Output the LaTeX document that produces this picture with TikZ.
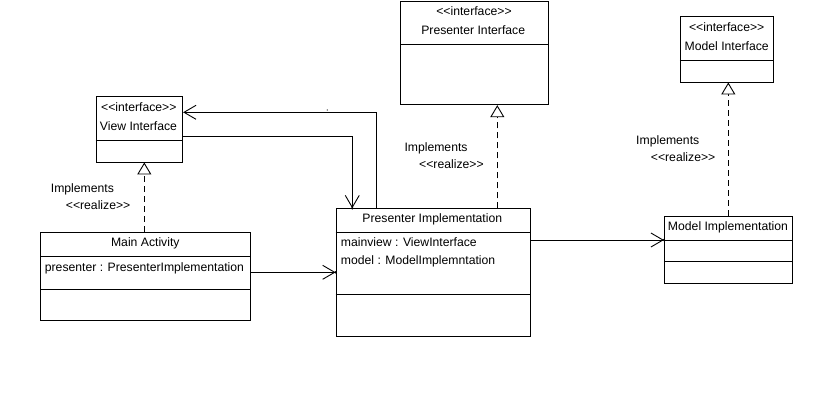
\documentclass[tikz,border=0pt]{standalone}
\usepackage{fontspec}
\newfontfamily\umlfont{Liberation Sans}
\usetikzlibrary{arrows.meta}
\tikzset{
  umlbox/.style={draw=black, line width=0.9pt, fill=white, inner sep=0pt},
  divider/.style={draw=black, line width=0.9pt},
  lbl/.style={inner sep=0pt, font=\umlfont\fontsize{12.2}{14}\selectfont, text=black},
  assoc/.style={draw=black, line width=0.9pt, -{Straight Barb[length=12pt,width=14pt]}},
  realiz/.style={draw=black, line width=0.9pt, dash pattern=on 6pt off 4pt, -{Triangle[open,length=12pt,width=14pt,fill=white]}},
}
\begin{document}
\begin{tikzpicture}[x=1pt,y=-1pt]
\useasboundingbox (0,0) rectangle (832,416);
% boxes
\node[umlbox, minimum width=86.7pt, minimum height=66pt] (vi) at (139.35,129) {};
\node[umlbox, minimum width=209.6pt, minimum height=87.7pt] (ma) at (145.5,276.15) {};
\node[umlbox, minimum width=194.7pt, minimum height=127.3pt] (pi) at (433.35,272.35) {};
\node[umlbox, minimum width=147.3pt, minimum height=103.7pt] (pii) at (474.35,52.85) {};
\node[umlbox, minimum width=93pt, minimum height=65.7pt] (mint) at (726.8,49.15) {};
\node[umlbox, minimum width=128.4pt, minimum height=67pt] (mimpl) at (728.5,249.8) {};
% dividers
\draw[divider] (vi.west |- 0,140.7) -- (vi.east |- 0,140.7);
\draw[divider] (ma.west |- 0,256) -- (ma.east |- 0,256);
\draw[divider] (ma.west |- 0,289.3) -- (ma.east |- 0,289.3);
\draw[divider] (pi.west |- 0,232.7) -- (pi.east |- 0,232.7);
\draw[divider] (pi.west |- 0,294.7) -- (pi.east |- 0,294.7);
\draw[divider] (pii.west |- 0,44) -- (pii.east |- 0,44);
\draw[divider] (mint.west |- 0,60.7) -- (mint.east |- 0,60.7);
\draw[divider] (mimpl.west |- 0,240) -- (mimpl.east |- 0,240);
\draw[divider] (mimpl.west |- 0,261.7) -- (mimpl.east |- 0,261.7);
% texts
\node[lbl, anchor=base] (vist) at (138.8,111.1) {<<interface>>};
\node[lbl, anchor=base] (vin) at (138.5,130.1) {View Interface};
\node[lbl, anchor=base] (man) at (145.3,246.7) {Main Activity};
\node[lbl, anchor=base west] (maa) at (44.7,271.1) {presenter : PresenterImplementation};
\node[lbl, anchor=base] (pin) at (432.3,222.1) {Presenter Implementation};
\node[lbl, anchor=base west] (pia) at (340.7,246.7) {mainview : ViewInterface};
\node[lbl, anchor=base west] (pib) at (340.7,264.1) {model : ModelImplemntation};
\node[lbl, anchor=base] (piist) at (474,15.4) {<<interface>>};
\node[lbl, anchor=base] (piin) at (473.2,34.1) {Presenter Interface};
\node[lbl, anchor=base] (mintst) at (726.7,31.1) {<<interface>>};
\node[lbl, anchor=base] (mintn) at (726.7,50.1) {Model Interface};
\node[lbl, anchor=base] (mimpln) at (728,230.4) {Model Implementation};
% realization labels
\node[lbl, anchor=base west] (r1a) at (50.7,192.1) {Implements};
\node[lbl, anchor=base west] (r1b) at (65.7,209.5) {<<realize>>};
\node[lbl, anchor=base west] (r2a) at (404.3,151.1) {Implements};
\node[lbl, anchor=base west] (r2b) at (419,168.7) {<<realize>>};
\node[lbl, anchor=base west] (r3a) at (636,144.4) {Implements};
\node[lbl, anchor=base west] (r3b) at (650.7,161.7) {<<realize>>};
% stray dot
\fill[black] (327.3,110) circle (0.6pt);
% realizations
\draw[realiz] ([xshift=-1.2pt]ma.north) -- ([xshift=-1.2pt]ma.north |- vi.south);
\draw[realiz] ([xshift=63.95pt]pi.north) -- ([xshift=63.95pt]pi.north |- pii.south);
\draw[realiz] ([xshift=-0.2pt]mimpl.north) -- ([xshift=-0.2pt]mimpl.north |- mint.south);
% associations
\draw[assoc] ([xshift=40.7pt]pi.north west) |- ([yshift=16.7pt]vi.east);
\draw[assoc] ([yshift=-7.7pt]vi.east) -| ([xshift=16.7pt]pi.north west);
\fill[black] ([xshift=16.7pt]pi.north west) circle (1.3pt);
\draw[assoc] ([yshift=3.85pt]ma.east) -- ([yshift=3.85pt]ma.east -| pi.west);
\fill[black] ([yshift=3.85pt]ma.east -| pi.west) circle (1.3pt);
\draw[assoc] ([yshift=32.35pt]pi.east) -- ([yshift=32.35pt]pi.east -| mimpl.west);
\fill[black] ([yshift=32.35pt]pi.east -| mimpl.west) circle (1.3pt);
\end{tikzpicture}
\end{document}
